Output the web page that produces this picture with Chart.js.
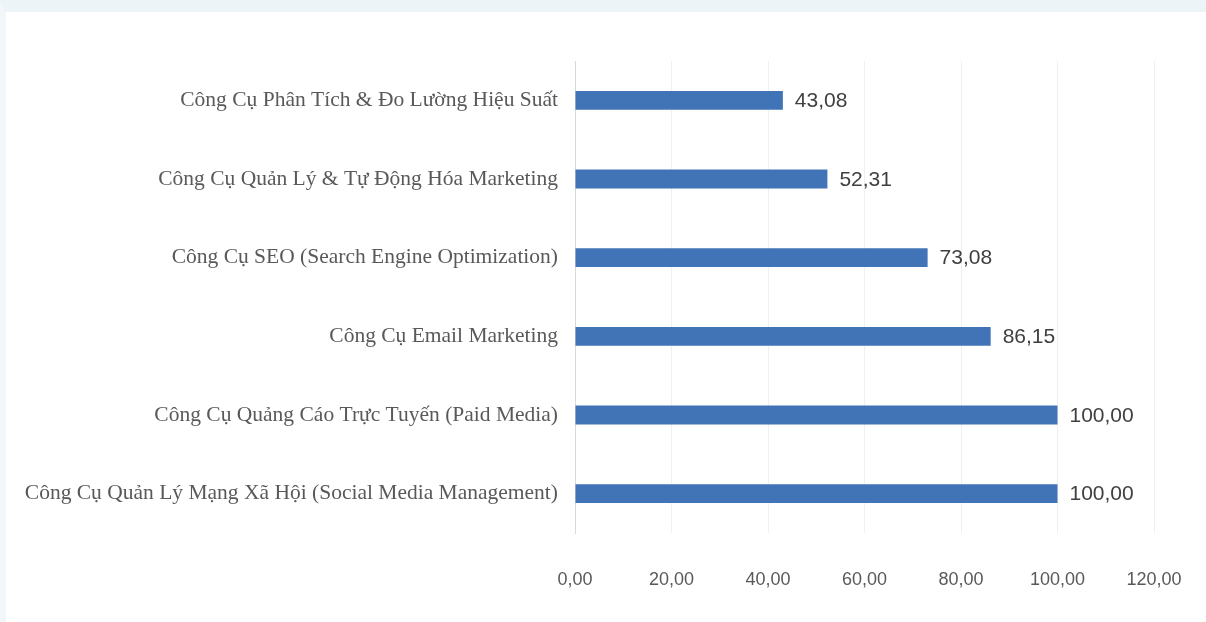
<!DOCTYPE html>
<html>
<head>
<meta charset="utf-8">
<script src="https://cdn.jsdelivr.net/npm/chart.js@4"></script>
<style>
    html, body { margin: 0; padding: 0; background: #ffffff; }
    #wrap { width: 1206px; height: 622px; position: relative; box-sizing: border-box; border-top: 12px solid #edf4f7; border-left: 6px solid #f1f6f8; }
    canvas { display: block; }
</style>
</head>
<body>
<div id="wrap"><canvas id="toolsChart" width="1200" height="610"></canvas></div>
<script>
const categories = [
    'Công Cụ Phân Tích & Đo Lường Hiệu Suất',
    'Công Cụ Quản Lý & Tự Động Hóa Marketing',
    'Công Cụ SEO (Search Engine Optimization)',
    'Công Cụ Email Marketing',
    'Công Cụ Quảng Cáo Trực Tuyến (Paid Media)',
    'Công Cụ Quản Lý Mạng Xã Hội (Social Media Management)'
];
const values = [43.08, 52.31, 73.08, 86.15, 100.00, 100.00];
const axisMin = 0;
const axisMax = 120;
const axisStep = 20;

// số kiểu Việt Nam: dấu phẩy thập phân
const fmt = v => Number(v).toFixed(2).replace('.', ',');

// nhãn giá trị ở cuối mỗi thanh
const valueLabels = {
    id: 'valueLabels',
    afterDatasetsDraw(chart) {
        const ctx = chart.ctx;
        const meta = chart.getDatasetMeta(0);
        ctx.save();
        ctx.font = '21px "Liberation Sans Narrow", "Liberation Sans", sans-serif';
        ctx.fillStyle = '#404040';
        ctx.textAlign = 'left';
        ctx.textBaseline = 'middle';
        meta.data.forEach((bar, i) => {
            ctx.fillText(fmt(values[i]), bar.x + 12, bar.y + 1);
        });
        ctx.restore();
    }
};

new Chart(document.getElementById('toolsChart'), {
    type: 'bar',
    data: {
        labels: categories,
        datasets: [{
            data: values,
            backgroundColor: '#4174b6',
            borderWidth: 0,
            categoryPercentage: 1,
            barPercentage: 0.24
        }]
    },
    options: {
        indexAxis: 'y',
        responsive: false,
        animation: false,
        layout: { padding: { top: 49, right: 52, left: 0, bottom: 0 } },
        plugins: {
            legend: { display: false },
            tooltip: { enabled: false }
        },
        scales: {
            x: {
                min: axisMin,
                max: axisMax,
                afterFit: scale => {
                    scale.height = 89;
                    scale.paddingLeft = 0;
                    scale.paddingRight = 0;
                },
                ticks: {
                    stepSize: axisStep,
                    padding: 36,
                    color: '#595959',
                    font: { family: '"Liberation Sans Narrow", "Liberation Sans", sans-serif', size: 18 },
                    callback: v => fmt(v)
                },
                grid: { color: '#f0f0f0', drawTicks: false },
                border: { display: false }
            },
            y: {
                afterFit: scale => { scale.width = 569; },
                ticks: {
                    padding: 17,
                    color: '#595959',
                    font: { family: '"Liberation Serif", serif', size: 21.5 }
                },
                grid: { display: false, drawTicks: false },
                border: { color: '#d9d9d9', width: 1 }
            }
        }
    },
    plugins: [valueLabels]
});
</script>
</body>
</html>
